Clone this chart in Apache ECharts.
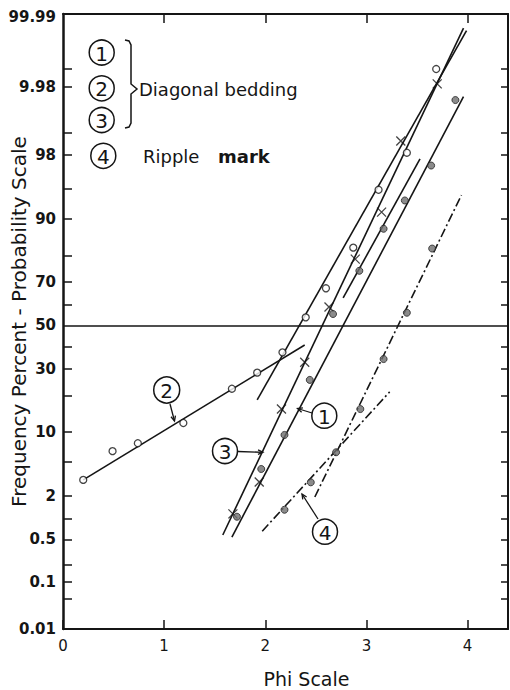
<!DOCTYPE html>
<html><head><meta charset="utf-8">
<script src="https://cdn.jsdelivr.net/npm/echarts@6.0.0/dist/echarts.min.js"></script>
<style>html,body{margin:0;padding:0;background:#fff;}#chart{width:510px;height:690px;}</style>
</head><body><div id="chart"></div>
<script>
// ---------------- data ----------------
const xTickValues = [0, 1, 2, 3, 4];
const yLabelPct  = [99.99, 99.8, 98, 90, 70, 50, 30, 10, 2, 0.5, 0.1, 0.01];
const yLabelText = ['99.99', '9.98', '98', '90', '70', '50', '30', '10', '2', '0.5', '0.1', '0.01'];
const yTickPct   = [99.9, 99.8, 99, 98, 95, 90, 80, 70, 60, 40, 30, 20, 10, 5, 2, 1, 0.5, 0.2, 0.1, 0.05];
const medianPct  = 50;

// Sample 1 (filled dots, solid lines)
const s1Phi = [1.72, 1.96, 2.19, 2.44, 2.67, 2.93, 3.17, 3.38, 3.64, 3.88];
const s1Pct = [1.06, 4.19, 9.36, 25.6, 55.5, 74.5, 87.8, 93.4, 97.3, 99.67];
const s1LinePhi  = [1.67, 3.96];  const s1LinePct  = [0.54, 99.71];
const s1Line2Phi = [2.77, 3.53];  const s1Line2Pct = [63.0, 97.76];

// Sample 2 (open circles)
const s2Phi = [0.20, 0.49, 0.74, 1.19, 1.67, 1.92, 2.17, 2.40, 2.60, 2.87, 3.12, 3.40, 3.69];
const s2Pct = [3.14, 6.5, 7.8, 12.0, 22.3, 28.5, 37.3, 53.9, 67.3, 82.6, 94.9, 98.13, 99.90];
const s2LineAPhi = [0.20, 2.39];  const s2LineAPct = [3.14, 40.7];
const s2LineBPhi = [1.92, 3.99];  const s2LineBPct = [18.5, 99.981];

// Sample 3 (crosses)
const s3Phi = [1.68, 1.94, 2.16, 2.39, 2.63, 2.89, 3.15, 3.34, 3.70];
const s3Pct = [1.16, 2.96, 15.7, 32.9, 58.8, 78.8, 91.4, 98.69, 99.82];
const s3LinePhi = [1.58, 3.96];   const s3LinePct = [0.58, 99.983];

// Sample 4 – ripple mark (filled dots, dash-dot lines)
const s4Phi = [2.19, 2.45, 2.70, 2.94, 3.17, 3.40, 3.65];
const s4Pct = [1.32, 2.94, 6.33, 15.7, 34.3, 56.1, 82.3];
const s4LineAPhi = [1.97, 3.23];  const s4LineAPct = [0.66, 21.2];
const s4LineBPhi = [2.49, 3.94];  const s4LineBPct = [1.94, 94.2];

// ---------------- probability scale ----------------
function probit(p) {
  const a = [-3.969683028665376e+01, 2.209460984245205e+02, -2.759285104469687e+02, 1.383577518672690e+02, -3.066479806614716e+01, 2.506628277459239e+00];
  const b = [-5.447609879822406e+01, 1.615858368580409e+02, -1.556989798598866e+02, 6.680131188771972e+01, -1.328068155288572e+01];
  const c = [-7.784894002430293e-03, -3.223964580411365e-01, -2.400758277161838e+00, -2.549671348283017e+00, 4.374664141464968e+00, 2.938163982698783e+00];
  const d = [7.784695709041462e-03, 3.224671290700398e-01, 2.445134137142996e+00, 3.754408661907416e+00];
  const pl = 0.02425, ph = 1 - pl; let q, r;
  if (p < pl) { q = Math.sqrt(-2 * Math.log(p)); return (((((c[0]*q+c[1])*q+c[2])*q+c[3])*q+c[4])*q+c[5]) / ((((d[0]*q+d[1])*q+d[2])*q+d[3])*q+1); }
  if (p <= ph) { q = p - 0.5; r = q*q; return (((((a[0]*r+a[1])*r+a[2])*r+a[3])*r+a[4])*r+a[5])*q / (((((b[0]*r+b[1])*r+b[2])*r+b[3])*r+b[4])*r+1); }
  q = Math.sqrt(-2 * Math.log(1 - p)); return -(((((c[0]*q+c[1])*q+c[2])*q+c[3])*q+c[4])*q+c[5]) / ((((d[0]*q+d[1])*q+d[2])*q+d[3])*q+1);
}
const zOf = pct => probit(pct / 100);
const Y_MIN = -3.657, Y_MAX = 3.753;         // drawn frame of the probability axis
const clampZ = z => Math.min(Y_MAX, Math.max(Y_MIN, z));
const labelZ = yLabelPct.map(p => clampZ(zOf(p)));
const tickZ = yTickPct.map(zOf);
const labelFor = v => { for (let i = 0; i < labelZ.length; i++) if (Math.abs(labelZ[i] - v) < 1e-6) return yLabelText[i]; return ''; };

const pts = (ph, pc) => ph.map((p, i) => [p, zOf(pc[i])]);
const INK = '#151515';
const seg = (name, ph, pc, dashed, extra) => Object.assign({
  type: 'line', name, data: pts(ph, pc), symbol: 'none', silent: true, z: 2, animation: false,
  lineStyle: { color: INK, width: 1.6, type: dashed ? [9, 3, 2, 3] : 'solid' }
}, extra || {});

// ---------------- annotations ----------------
const FONT = '"DejaVu Sans", sans-serif';
function ring(cx, cy, r, t) {
  return [
    { type: 'circle', z: 10, shape: { cx, cy, r }, style: { fill: '#fff', stroke: INK, lineWidth: 1.5 } },
    { type: 'text', z: 11, x: cx, y: cy + 1, style: { text: t, fill: INK, font: '20px ' + FONT, align: 'center', verticalAlign: 'middle', textAlign: 'center', textVerticalAlign: 'middle' } }
  ];
}
function arrow(x1, y1, x2, y2) {
  const dx = x2 - x1, dy = y2 - y1, L = Math.hypot(dx, dy), ux = dx / L, uy = dy / L, h = 5, w = 2.3;
  const bx = x2 - ux * h, by = y2 - uy * h;
  return [
    { type: 'line', z: 10, shape: { x1, y1, x2, y2 }, style: { stroke: INK, lineWidth: 1.3 } },
    { type: 'polyline', z: 10, shape: { points: [[bx - uy * w, by + ux * w], [x2, y2], [bx + uy * w, by - ux * w]] }, style: { stroke: INK, lineWidth: 1.3, fill: 'none' } }
  ];
}
const graphics = [].concat(
  ring(101.7, 52.5, 12.5, '1'), ring(101.7, 88.3, 12.5, '2'), ring(101.7, 120, 12.5, '3'), ring(103.3, 155.8, 12.5, '4'),
  [{ type: 'polyline', z: 10, shape: { points: [[125, 40], [129, 41], [131, 45], [131, 84], [137, 89], [131, 94], [131, 123], [129, 127], [125, 128]] }, style: { stroke: INK, lineWidth: 1.5, fill: 'none' } },
   { type: 'text', z: 11, x: 139, y: 89, style: { text: 'Diagonal bedding', fill: INK, font: '18px ' + FONT, align: 'left', verticalAlign: 'middle', textAlign: 'left', textVerticalAlign: 'middle' } },
   { type: 'text', z: 11, x: 143, y: 156, style: { text: '{a|Ripple }{b|mark}', fill: INK, font: '18px ' + FONT, align: 'left', verticalAlign: 'middle', textAlign: 'left', textVerticalAlign: 'middle',
       rich: { a: { fontSize: 18, fontFamily: 'DejaVu Sans', width: 75, fill: INK, color: INK }, b: { fontSize: 18, fontFamily: 'DejaVu Sans', fontWeight: 'bold', fill: INK, color: INK } } } }],
  ring(166.7, 390, 13, '2'), arrow(170, 404, 174.5, 421),
  ring(324.3, 415.7, 12.5, '1'), arrow(312, 413, 297.5, 408.5),
  ring(225, 451, 12.5, '3'), arrow(238, 451.5, 263, 452.3),
  ring(325, 531.7, 12.5, '4'), arrow(318, 519, 302, 494)
);

// ---------------- chart ----------------
const chart = echarts.init(document.getElementById('chart'), null, { renderer: 'svg' });
const axisFont = { fontFamily: 'DejaVu Sans', fontSize: 15, color: INK };
chart.setOption({
  animation: false,
  backgroundColor: '#fff',
  grid: { left: 63, right: 2, top: 14, bottom: 61, containLabel: false, outerBoundsMode: 'none' },
  xAxis: [
    { type: 'value', position: 'bottom', min: 0, max: 4.4,
      axisLine: { show: true, onZero: false, lineStyle: { color: INK, width: 2 } },
      axisTick: { show: true, inside: true, length: 9, customValues: xTickValues, lineStyle: { color: INK, width: 1.5 } },
      axisLabel: Object.assign({ show: true, margin: 9, customValues: xTickValues }, axisFont),
      splitLine: { show: false },
      name: 'Phi Scale', nameLocation: 'middle', nameGap: 40, nameMoveOverlap: false,
      nameTextStyle: { fontFamily: 'DejaVu Sans', fontSize: 19, color: INK, padding: [0, 0, 0, 42] } },
    { type: 'value', position: 'top', min: 0, max: 4.4,
      axisLine: { show: true, onZero: false, lineStyle: { color: INK, width: 2 } },
      axisTick: { show: true, inside: true, length: 9, customValues: xTickValues.slice(1), lineStyle: { color: INK, width: 1.5 } },
      axisLabel: { show: false }, splitLine: { show: false } }
  ],
  yAxis: [
    { type: 'value', position: 'left', min: Y_MIN, max: Y_MAX,
      axisLine: { show: true, onZero: false, lineStyle: { color: INK, width: 2.5 } },
      axisTick: { show: true, inside: true, length: 9, customValues: tickZ, lineStyle: { color: INK, width: 1.5 } },
      axisLabel: Object.assign({ show: true, margin: 7, fontWeight: 'bold', customValues: labelZ, formatter: v => labelFor(v) }, axisFont),
      splitLine: { show: false },
      name: 'Frequency Percent - Probability Scale', nameLocation: 'middle', nameRotate: 90, nameGap: 44, nameMoveOverlap: false,
      nameTextStyle: { fontFamily: 'DejaVu Sans', fontSize: 20, color: INK, verticalAlign: 'middle' } },
    { type: 'value', position: 'right', min: Y_MIN, max: Y_MAX,
      axisLine: { show: true, onZero: false, lineStyle: { color: INK, width: 2 } },
      axisTick: { show: true, inside: true, length: 7, customValues: tickZ, lineStyle: { color: INK, width: 1.5 } },
      axisLabel: { show: false }, splitLine: { show: false } }
  ],
  graphic: { elements: graphics },
  series: [
    seg('Sample 2 – fine tail', s2LineAPhi, s2LineAPct, false, {
      markLine: { silent: true, symbol: 'none', label: { show: false }, animation: false,
        lineStyle: { color: INK, width: 1.5, type: 'solid' }, data: [{ yAxis: zOf(medianPct) }] } }),
    seg('Sample 2 – main', s2LineBPhi, s2LineBPct, false),
    seg('Sample 1 – main', s1LinePhi, s1LinePct, false),
    seg('Sample 1 – upper', s1Line2Phi, s1Line2Pct, false),
    seg('Sample 3', s3LinePhi, s3LinePct, false),
    seg('Sample 4 – fine tail', s4LineAPhi, s4LineAPct, true),
    seg('Sample 4 – main', s4LineBPhi, s4LineBPct, true),
    { type: 'scatter', name: 'Sample 2 points', data: pts(s2Phi, s2Pct), symbol: 'circle', symbolSize: 7, z: 5, silent: true,
      itemStyle: { color: '#fff', borderColor: INK, borderWidth: 1.3 } },
    { type: 'scatter', name: 'Sample 3 points', data: pts(s3Phi, s3Pct), symbol: 'path://M0,0L10,10M10,0L0,10', symbolSize: 9, z: 5, silent: true,
      itemStyle: { color: 'none', borderColor: INK, borderWidth: 1.3 } },
    { type: 'scatter', name: 'Sample 1 points', data: pts(s1Phi, s1Pct), symbol: 'circle', symbolSize: 7, z: 5, silent: true,
      itemStyle: { color: '#6e6e6e', borderColor: '#222', borderWidth: 1 } },
    { type: 'scatter', name: 'Sample 4 points', data: pts(s4Phi, s4Pct), symbol: 'circle', symbolSize: 7, z: 5, silent: true,
      itemStyle: { color: '#6e6e6e', borderColor: '#222', borderWidth: 1 } }
  ]
});
</script>
</body></html>
